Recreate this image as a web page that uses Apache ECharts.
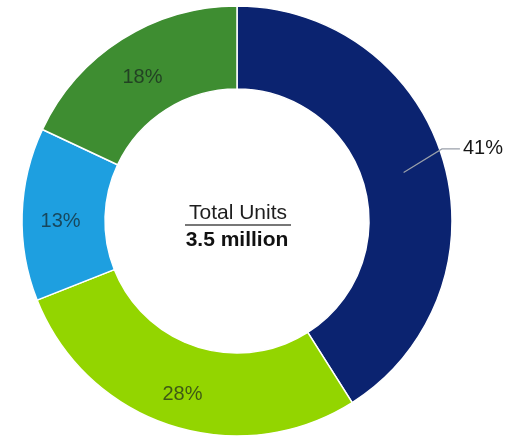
<!DOCTYPE html>
<html>
<head>
<meta charset="utf-8">
<script src="https://cdn.jsdelivr.net/npm/echarts@6/dist/echarts.min.js"></script>
<style>
  html, body { margin: 0; padding: 0; background: #fff; }
  #chart { width: 510px; height: 444px; }
</style>
</head>
<body>
<div id="chart"></div>
<script>
// Unit share by segment, clockwise from 12 o'clock
const segments = ['Segment A', 'Segment B', 'Segment C', 'Segment D'];
const shares = [41, 28, 13, 18];
const segmentColors = ['#0b2370', '#93d500', '#1e9fe0', '#3e8d31'];
const centerTitle = 'Total Units';
const centerValue = '3.5 million';
// Segments whose label sits outside the ring with a leader line
const outsideLabels = ['Segment A'];

const FONT = '"Liberation Sans", Arial, Helvetica, sans-serif';
const CX = 237, CY = 221, R_IN = 132, R_OUT = 215;

const ringData = segments.map((name, i) => ({
  name,
  value: shares[i],
  itemStyle: { color: segmentColors[i] },
  label: { show: !outsideLabels.includes(name) }
}));

// Transparent copy of the ring whose edge sits mid-ring, so the leader line starts inside the slice
const leaderData = segments.map((name, i) => ({
  name,
  value: shares[i],
  label: { show: outsideLabels.includes(name) },
  labelLine: { show: outsideLabels.includes(name) }
}));

const chart = echarts.init(document.getElementById('chart'), null, { renderer: 'canvas' });

chart.setOption({
  animation: false,
  backgroundColor: '#ffffff',
  series: [
    {
      type: 'pie',
      center: [CX, CY],
      radius: [R_IN, R_OUT],
      startAngle: 90,
      clockwise: true,
      avoidLabelOverlap: false,
      silent: true,
      itemStyle: { borderColor: '#ffffff', borderWidth: 1.5 },
      label: {
        position: 'inside',
        formatter: '{c}%',
        fontFamily: FONT,
        fontSize: 20,
        color: 'rgba(20,30,30,0.68)',
        offset: [0, 6]
      },
      labelLine: { show: false },
      data: ringData
    },
    {
      type: 'pie',
      center: [CX, CY],
      radius: [0, (R_IN + R_OUT) / 2],
      startAngle: 90,
      clockwise: true,
      avoidLabelOverlap: false,
      silent: true,
      z: 3,
      itemStyle: { color: 'rgba(0,0,0,0)', borderWidth: 0 },
      label: {
        position: 'outside',
        formatter: '{c}%',
        fontFamily: FONT,
        fontSize: 20,
        color: '#161616',
        distanceToLabelLine: 3
      },
      labelLine: {
        show: true,
        length: 42,
        length2: 16,
        lineStyle: { color: '#9aa0aa', width: 1.2 }
      },
      labelLayout: function (p) {
        const pts = p.labelLinePoints;
        if (!pts) return {};
        const lift = 12;
        return {
          dy: -lift,
          labelLinePoints: [
            pts[0],
            [pts[1][0] - 2, pts[1][1] - lift],
            [pts[2][0], pts[2][1] - lift]
          ]
        };
      },
      data: leaderData
    }
  ],
  graphic: [
    {
      type: 'text',
      x: CX + 1,
      y: CY - 8,
      style: {
        text: centerTitle,
        font: '21px ' + FONT,
        fill: '#1e1e1e',
        align: 'center',
        verticalAlign: 'middle'
      }
    },
    {
      type: 'line',
      shape: { x1: CX - 52, y1: CY + 4, x2: CX + 54, y2: CY + 4 },
      style: { stroke: '#4a4a4a', lineWidth: 1.3 }
    },
    {
      type: 'text',
      x: CX,
      y: CY + 19,
      style: {
        text: centerValue,
        font: 'bold 21px ' + FONT,
        fill: '#111111',
        align: 'center',
        verticalAlign: 'middle'
      }
    }
  ]
});
</script>
</body>
</html>
